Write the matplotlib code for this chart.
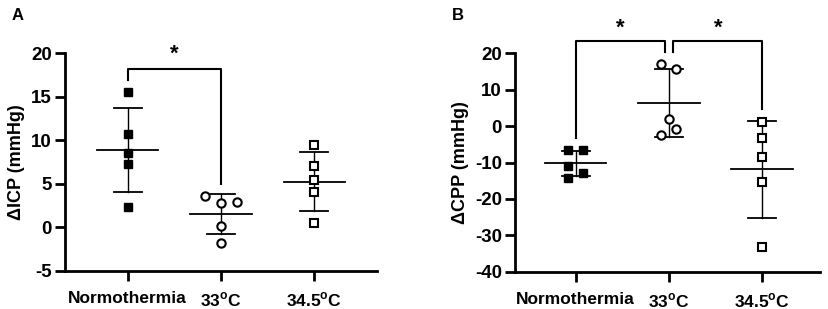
import numpy as np
import matplotlib
matplotlib.use('Agg')
import matplotlib.pyplot as plt

plt.rcParams['font.family'] = ['Liberation Sans', 'DejaVu Sans']
plt.rcParams['font.weight'] = 'bold'
plt.rcParams['mathtext.fontset'] = 'custom'
plt.rcParams['mathtext.rm'] = 'Liberation Sans:bold'
plt.rcParams['mathtext.bf'] = 'Liberation Sans:bold'
plt.rcParams['axes.unicode_minus'] = False

groups = ['Normothermia', '33$^{\\mathrm{o}}$C', '34.5$^{\\mathrm{o}}$C']

# panel A: delta ICP (mmHg)
icp_norm = [15.5, 10.7, 8.5, 7.3, 2.3]
icp_33 = [3.6, 2.75, 2.85, 0.15, -1.8]
icp_345 = [9.4, 7.0, 5.4, 4.0, 0.45]
icp_33_dx = [-0.17, 0, 0.17, 0, 0]

# panel B: delta CPP (mmHg)
cpp_norm = [-6.6, -6.6, -10.9, -12.8, -14.2]
cpp_norm_dx = [-0.08, 0.08, -0.08, 0.08, -0.08]
cpp_33 = [17.1, 15.6, 1.9, -0.7, -2.4]
cpp_33_dx = [-0.08, 0.08, 0, 0.08, -0.08]
cpp_345 = [1.0, -3.3, -8.4, -15.3, -33.1]

styles = [dict(marker='s', mfc='black', mec='black', ms=5.6),
          dict(marker='o', mfc='white', mec='black', ms=6.0, mew=1.5),
          dict(marker='s', mfc='white', mec='black', ms=5.6, mew=1.5)]


def draw_group(ax, i, vals, dx):
    vals = np.array(vals)
    m = vals.mean()
    sd = vals.std(ddof=1)
    ax.plot(np.array(dx) + i, vals, ls='none', zorder=3, **styles[i])
    ax.plot([i - 0.33, i + 0.33], [m, m], color='black', lw=1.3, zorder=2)
    ax.plot([i, i], [m - sd, m + sd], color='black', lw=1.0, zorder=2)
    for y in (m - sd, m + sd):
        ax.plot([i - 0.15, i + 0.15], [y, y], color='black', lw=1.3, zorder=2)


def style_axes(ax, ylim, yticks, ylabel):
    ax.set_ylim(*ylim)
    ax.set_yticks(yticks)
    ax.set_xticks(range(3))
    ax.set_xticklabels(groups, fontsize=12.5, fontweight='bold')
    ax.tick_params(axis='both', width=2.0, length=7.5)
    ax.tick_params(axis='y', pad=2, labelsize=13.5)
    ax.tick_params(axis='x', pad=7)
    for t in ax.get_yticklabels():
        t.set_fontweight('bold')
    for s in ['top', 'right']:
        ax.spines[s].set_visible(False)
    for s in ['left', 'bottom']:
        ax.spines[s].set_linewidth(2.0)
    ax.set_ylabel(ylabel, fontsize=13, fontweight='bold', labelpad=4)


fig = plt.figure(figsize=(8.29, 3.09), dpi=100)
axA = fig.add_axes([0.0784, 0.124, 0.3764, 0.7035])
axB = fig.add_axes([0.6212, 0.1207, 0.3678, 0.7068])

draw_group(axA, 0, icp_norm, [0] * 5)
draw_group(axA, 1, icp_33, icp_33_dx)
draw_group(axA, 2, icp_345, [0] * 5)
axA.set_xlim(-0.672, 2.672)
style_axes(axA, (-5, 20), [-5, 0, 5, 10, 15, 20], '\u0394ICP (mmHg)')
axA.plot([0, 0, 1, 1], [16.9, 18.2, 18.2, 5.0], color='black', lw=1.5, clip_on=False)
axA.text(0.5, 19.9, '*', ha='center', va='center', fontsize=16, fontweight='bold')

draw_group(axB, 0, cpp_norm, cpp_norm_dx)
draw_group(axB, 1, cpp_33, cpp_33_dx)
draw_group(axB, 2, cpp_345, [0] * 5)
axB.set_xlim(-0.65, 2.62)
style_axes(axB, (-40, 20), [-40, -30, -20, -10, 0, 10, 20], '\u0394CPP (mmHg)')
axB.plot([0, 0, 0.96, 0.96], [-3.2, 23.5, 23.5, 20.3], color='black', lw=1.5, clip_on=False)
axB.plot([1.05, 1.05, 2, 2], [20.3, 23.5, 23.5, 4.6], color='black', lw=1.5, clip_on=False)
axB.text(0.48, 26.9, '*', ha='center', va='center', fontsize=16, fontweight='bold')
axB.text(1.53, 26.9, '*', ha='center', va='center', fontsize=16, fontweight='bold')

fig.text(18 / 829, 1 - 16 / 309, 'A', ha='center', va='center', fontsize=12, fontweight='bold')
fig.text(458 / 829, 1 - 15 / 309, 'B', ha='center', va='center', fontsize=12, fontweight='bold')

fig.savefig('out.png', dpi=100)
